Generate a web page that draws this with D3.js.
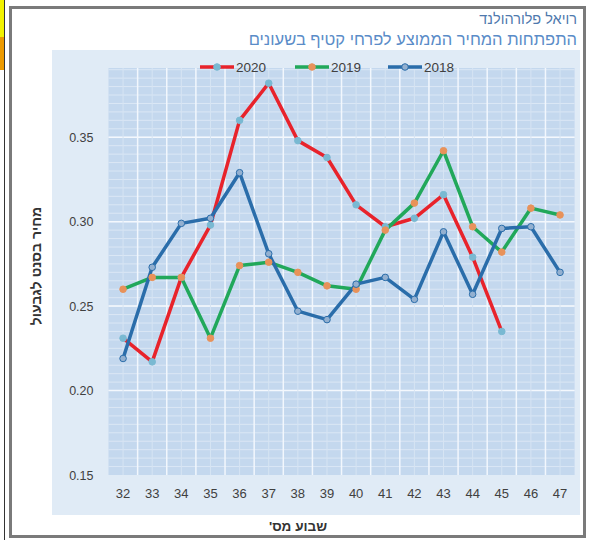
<!DOCTYPE html>
<html>
<head>
<meta charset="utf-8">
<script src="https://cdn.jsdelivr.net/npm/d3@7"></script>
<style>
  body { margin: 0; background: #fff; }
  svg { display: block; font-family: "Liberation Sans", Arial, sans-serif; }
</style>
</head>
<body>
<svg id="chart" width="590" height="540"></svg>
<script>
const weeks = ["32", "33", "34", "35", "36", "37", "38", "39", "40", "41", "42", "43", "44", "45", "46", "47"];

const prices2020 = [0.231, 0.217, 0.267, 0.298, 0.360, 0.382, 0.348, 0.338, 0.310, 0.297, 0.302, 0.316, 0.279, 0.235];
const prices2019 = [0.260, 0.267, 0.267, 0.231, 0.274, 0.276, 0.270, 0.262, 0.260, 0.295, 0.311, 0.342, 0.297, 0.282, 0.308, 0.304];
const prices2018 = [0.219, 0.273, 0.299, 0.302, 0.329, 0.281, 0.247, 0.242, 0.263, 0.267, 0.254, 0.294, 0.257, 0.296, 0.297, 0.270];

const yTicks = [0.15, 0.20, 0.25, 0.30, 0.35];

const series = [
  { name: "2020", values: prices2020, line: "#e8232b", marker: "#79b9d2", markerStroke: "#79b9d2" },
  { name: "2019", values: prices2019, line: "#21a85a", marker: "#e8925a", markerStroke: "#e8925a" },
  { name: "2018", values: prices2018, line: "#2a6daa", marker: "#93b0d0", markerStroke: "#2a6daa" }
];

const svg = d3.select("#chart");

// left edge leftovers of the sheet
svg.append("rect").attr("x", 0).attr("y", 0).attr("width", 4).attr("height", 37).attr("fill", "#f2f200");
svg.append("rect").attr("x", 0).attr("y", 37).attr("width", 4).attr("height", 33).attr("fill", "#ec9a00");
svg.append("line").attr("x1", 4.5).attr("x2", 4.5).attr("y1", 0).attr("y2", 540).attr("stroke", "#333").attr("stroke-width", 1);

// chart frame
svg.append("rect")
  .attr("x", 10.5).attr("y", 7.5)
  .attr("width", 574).attr("height", 529)
  .attr("fill", "#fff")
  .attr("stroke", "#7a7a7a")
  .attr("stroke-width", 3);

// outer light area
svg.append("rect")
  .attr("x", 52).attr("y", 50)
  .attr("width", 528).attr("height", 465)
  .attr("fill", "#e0ebf6");

const x = d3.scaleBand().domain(weeks).range([108.5, 574.6]).padding(0);
const y = d3.scaleLinear().domain([0.15, 0.391]).range([475, 68]);

const plotL = 108.5, plotR = 574.6, plotT = 68, plotB = 475;

svg.append("rect")
  .attr("x", plotL).attr("y", plotT)
  .attr("width", plotR - plotL).attr("height", plotB - plotT)
  .attr("fill", "#c4d8ee");

// horizontal grid
const minorY = d3.range(0.155, 0.391, 0.005);
svg.append("g").selectAll("line").data(minorY).join("line")
  .attr("x1", plotL).attr("x2", plotR)
  .attr("y1", d => y(d)).attr("y2", d => y(d))
  .attr("stroke", "#dbe7f5")
  .attr("stroke-width", 1);

svg.append("g").selectAll("line").data(yTicks.slice(1)).join("line")
  .attr("x1", plotL).attr("x2", plotR)
  .attr("y1", d => y(d)).attr("y2", d => y(d))
  .attr("stroke", "#f4f8fd")
  .attr("stroke-width", 1.5);

// vertical grid
svg.append("g").selectAll("line").data(weeks).join("line")
  .attr("x1", d => x(d) + x.bandwidth() / 2).attr("x2", d => x(d) + x.bandwidth() / 2)
  .attr("y1", plotT).attr("y2", plotB)
  .attr("stroke", "#d6e4f3")
  .attr("stroke-width", 1);

svg.append("g").selectAll("line").data(weeks.slice(1)).join("line")
  .attr("x1", d => x(d)).attr("x2", d => x(d))
  .attr("y1", plotT).attr("y2", plotB)
  .attr("stroke", "#f2f7fd")
  .attr("stroke-width", 1.5);

// axes
const xAxis = svg.append("g")
  .attr("transform", "translate(0," + plotB + ")")
  .call(d3.axisBottom(x).tickSize(0).tickPadding(14));
xAxis.select(".domain").remove();
xAxis.selectAll("text").attr("font-size", 13).attr("fill", "#404040").attr("font-family", "Liberation Sans, Arial, sans-serif");

const yAxis = svg.append("g")
  .attr("transform", "translate(" + plotL + ",0)")
  .call(d3.axisLeft(y).tickValues(yTicks).tickFormat(d3.format(".2f")).tickSize(0).tickPadding(15));
yAxis.select(".domain").remove();
yAxis.selectAll("text").attr("font-size", 12.5).attr("fill", "#404040").attr("font-family", "Liberation Sans, Arial, sans-serif");

// lines
const line = d3.line()
  .x((d, i) => x(weeks[i]) + x.bandwidth() / 2)
  .y(d => y(d));

series.forEach(s => {
  svg.append("path")
    .datum(s.values)
    .attr("d", line)
    .attr("fill", "none")
    .attr("stroke", s.line)
    .attr("stroke-width", 3.5)
    .attr("stroke-linejoin", "round");
});

series.forEach(s => {
  svg.append("g").selectAll("circle").data(s.values).join("circle")
    .attr("cx", (d, i) => x(weeks[i]) + x.bandwidth() / 2)
    .attr("cy", d => y(d))
    .attr("r", 3.3)
    .attr("fill", s.marker)
    .attr("stroke", s.markerStroke)
    .attr("stroke-width", 1);
});

// legend
const legendX = [200, 295, 388];
series.forEach((s, i) => {
  const g = svg.append("g").attr("transform", "translate(" + legendX[i] + ",67)");
  g.append("line").attr("x1", 0).attr("x2", 34).attr("y1", 0).attr("y2", 0)
    .attr("stroke", s.line).attr("stroke-width", 3.5);
  g.append("circle").attr("cx", 17).attr("cy", 0).attr("r", 3.3)
    .attr("fill", s.marker).attr("stroke", s.markerStroke).attr("stroke-width", 1);
  g.append("text").attr("x", 36).attr("y", 5)
    .attr("font-size", 13.5).attr("fill", "#404040")
    .text(s.name);
});

// titles
svg.append("text")
  .attr("x", 577).attr("y", 24)
  .attr("direction", "rtl")
  .attr("text-anchor", "start")
  .attr("font-size", 14.5)
  .attr("fill", "#4f79ad")
  .text("רויאל פלורהולנד");

svg.append("text")
  .attr("x", 577).attr("y", 45)
  .attr("direction", "rtl")
  .attr("text-anchor", "start")
  .attr("font-size", 16.5)
  .attr("fill", "#5a8cc8")
  .text("התפתחות המחיר הממוצע לפרחי קטיף בשעונים");

svg.append("text")
  .attr("transform", "translate(41,266) rotate(-90)")
  .attr("direction", "rtl")
  .attr("text-anchor", "middle")
  .attr("font-size", 14)
  .attr("font-weight", "bold")
  .attr("fill", "#333")
  .text("מחיר בסנט לגבעול");

svg.append("text")
  .attr("x", 298).attr("y", 531)
  .attr("direction", "rtl")
  .attr("text-anchor", "middle")
  .attr("font-size", 13.5)
  .attr("font-weight", "bold")
  .attr("fill", "#333")
  .text("שבוע מס'");
</script>
</body>
</html>
